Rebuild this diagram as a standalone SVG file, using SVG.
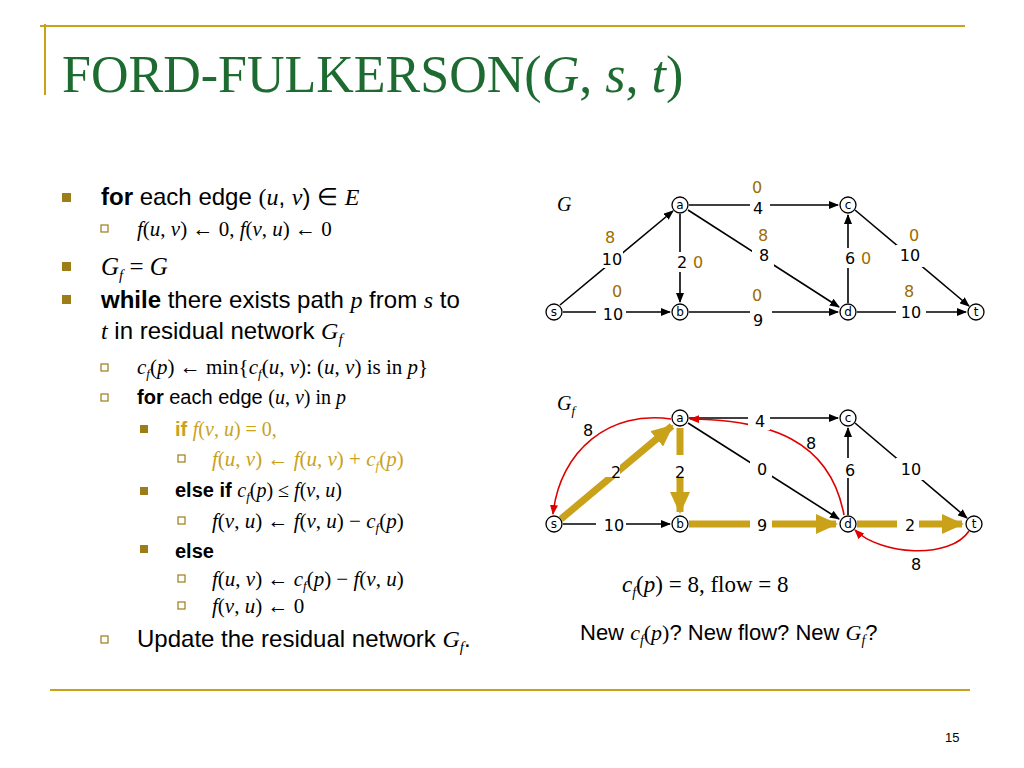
<svg xmlns="http://www.w3.org/2000/svg" width="1024" height="768" viewBox="0 0 1024 768">
<style>
.t{font-family:"Liberation Sans",Arial,sans-serif;fill:#000}
.m{font-family:"Liberation Serif",serif;font-style:italic}
.r{font-family:"Liberation Serif",serif;font-style:normal}
.n{fill:#fff;stroke:#000;stroke-width:1.3}
.nl{font-family:"DejaVu Sans",sans-serif;font-size:12px;text-anchor:middle}
.el{font-family:"DejaVu Sans",sans-serif;font-size:16px;text-anchor:middle}
.f{fill:#9C6D00}
.e{stroke:#000;stroke-width:1.6;fill:none;marker-end:url(#ah)}
.g{stroke:#C9A21A;stroke-width:7;fill:none;marker-end:url(#gh)}
.rd{stroke:#E00000;stroke-width:1.6;fill:none;marker-end:url(#rh)}
.b1{fill:#9C7D18}
</style>
<defs>
<marker id="ah" markerWidth="10" markerHeight="8" refX="9" refY="4" orient="auto" markerUnits="userSpaceOnUse"><path d="M0,0L10,4L0,8z"/></marker>
<marker id="gh" markerWidth="22" markerHeight="20" refX="20" refY="10" orient="auto" markerUnits="userSpaceOnUse"><path d="M0,0L22,10L0,20z" fill="#C9A21A"/></marker>
<marker id="rh" markerWidth="10" markerHeight="8" refX="9" refY="4" orient="auto" markerUnits="userSpaceOnUse"><path d="M0,0L10,4L0,8z" fill="#E00000"/></marker>
</defs>
<rect width="1024" height="768" fill="#fff"/>
<line x1="40" y1="26" x2="965" y2="26" stroke="#C9A21A" stroke-width="2"/>
<line x1="45" y1="24" x2="45" y2="95" stroke="#C9A21A" stroke-width="2"/>
<line x1="50" y1="690" x2="970" y2="690" stroke="#C9A21A" stroke-width="2"/>
<text x="62" y="92" font-family="Liberation Serif,serif" font-size="52" fill="#1E6B32">FORD-FULKERSON<tspan class="r">(</tspan><tspan class="m">G</tspan>, <tspan class="m">s</tspan>, <tspan class="m">t</tspan>)</text>
<text x="945" y="742" class="t" font-size="13">15</text>
<g id="bullets">
<rect x="62" y="193" width="9" height="9" class="b1"/>
<rect x="62" y="262" width="9" height="9" class="b1"/>
<rect x="62" y="295" width="9" height="9" class="b1"/>
<rect x="140" y="425" width="8" height="8" class="b1"/>
<rect x="140" y="487" width="8" height="8" class="b1"/>
<rect x="140" y="545" width="8" height="8" class="b1"/>
<g fill="none" stroke="#9C7D18" stroke-width="1.2">
<rect x="101" y="225" width="7" height="7"/><rect x="101" y="364" width="7" height="7"/><rect x="101" y="394" width="7" height="7"/>
<rect x="178" y="455" width="7" height="7"/><rect x="178" y="517" width="7" height="7"/><rect x="178" y="575" width="7" height="7"/><rect x="178" y="602" width="7" height="7"/>
<rect x="101" y="636" width="7" height="7"/>
</g>
</g>
<g id="code" class="t">
<text x="101" y="205" font-size="24"><tspan font-weight="bold">for</tspan> each edge <tspan class="r">(</tspan><tspan class="m">u</tspan>, <tspan class="m">v</tspan>) ∈ <tspan class="m">E</tspan></text>
<text x="137" y="236" font-size="21" class="m">f<tspan class="r">(</tspan>u<tspan class="r">, </tspan>v<tspan class="r">) ← 0, </tspan>f<tspan class="r">(</tspan>v<tspan class="r">, </tspan>u<tspan class="r">) ← 0</tspan></text>
<text x="101" y="275" font-size="25" class="m">G<tspan font-size="15" dy="5">f</tspan><tspan class="r" dy="-5"> = </tspan>G</text>
<text x="101" y="308" font-size="24"><tspan font-weight="bold">while</tspan> there exists path <tspan class="m">p</tspan> from <tspan class="m">s</tspan> to</text>
<text x="101" y="339" font-size="24"><tspan class="m">t</tspan> in residual network <tspan class="m">G<tspan font-size="15" dy="5">f</tspan></tspan></text>
<text x="137" y="374" font-size="21" class="m">c<tspan font-size="13" dy="4">f</tspan><tspan class="r" dy="-4">(</tspan>p<tspan class="r">) ← min{</tspan>c<tspan font-size="13" dy="4">f</tspan><tspan class="r" dy="-4">(</tspan>u<tspan class="r">, </tspan>v<tspan class="r">):  (</tspan>u<tspan class="r">, </tspan>v<tspan class="r">) is in </tspan>p<tspan class="r">}</tspan></text>
<text x="137" y="404" font-size="20"><tspan font-weight="bold">for</tspan> each edge <tspan class="r">(</tspan><tspan class="m">u</tspan><tspan class="r">, </tspan><tspan class="m">v</tspan><tspan class="r">) in </tspan><tspan class="m">p</tspan></text>
<text x="175" y="436" font-size="20" fill="#C9A21A"><tspan font-weight="bold" fill="#C9A21A">if</tspan> <tspan class="m">f</tspan><tspan class="r">(</tspan><tspan class="m">v</tspan><tspan class="r">, </tspan><tspan class="m">u</tspan><tspan class="r">) = 0,</tspan></text>
<text x="212" y="466" font-size="21" class="m" fill="#C9A21A">f<tspan class="r">(</tspan>u<tspan class="r">, </tspan>v<tspan class="r">) ← </tspan>f<tspan class="r">(</tspan>u<tspan class="r">, </tspan>v<tspan class="r">) + </tspan>c<tspan font-size="13" dy="4">f</tspan><tspan class="r" dy="-4">(</tspan>p<tspan class="r">)</tspan></text>
<text x="175" y="497" font-size="20"><tspan font-weight="bold">else if</tspan> <tspan class="m">c<tspan font-size="13" dy="4">f</tspan></tspan><tspan class="r" dy="-4">(</tspan><tspan class="m">p</tspan><tspan class="r">) ≤ </tspan><tspan class="m">f</tspan><tspan class="r">(</tspan><tspan class="m">v</tspan><tspan class="r">, </tspan><tspan class="m">u</tspan><tspan class="r">)</tspan></text>
<text x="212" y="528" font-size="21" class="m">f<tspan class="r">(</tspan>v<tspan class="r">, </tspan>u<tspan class="r">) ← </tspan>f<tspan class="r">(</tspan>v<tspan class="r">, </tspan>u<tspan class="r">) − </tspan>c<tspan font-size="13" dy="4">f</tspan><tspan class="r" dy="-4">(</tspan>p<tspan class="r">)</tspan></text>
<text x="175" y="558" font-size="20" font-weight="bold">else</text>
<text x="212" y="586" font-size="21" class="m">f<tspan class="r">(</tspan>u<tspan class="r">, </tspan>v<tspan class="r">) ← </tspan>c<tspan font-size="13" dy="4">f</tspan><tspan class="r" dy="-4">(</tspan>p<tspan class="r">) − </tspan>f<tspan class="r">(</tspan>v<tspan class="r">, </tspan>u<tspan class="r">)</tspan></text>
<text x="212" y="613" font-size="21" class="m">f<tspan class="r">(</tspan>v<tspan class="r">, </tspan>u<tspan class="r">) ← 0</tspan></text>
<text x="137" y="647" font-size="24">Update the residual network <tspan class="m">G<tspan font-size="15" dy="5">f</tspan></tspan><tspan dy="-5">.</tspan></text>
</g>
<text x="557" y="211" class="m" font-size="20">G</text>
<text x="557" y="410" class="m" font-size="20">G<tspan font-size="13" dy="5">f</tspan></text>
<g id="connectors">
<path class="e" d="M560,305L673,211"/><path class="e" d="M563,312L670,312"/>
<path class="e" d="M680,214L680,302"/><path class="e" d="M689,205L838,205"/>
<path class="e" d="M688,210L839,307"/><path class="e" d="M689,312L838,312"/>
<path class="e" d="M848,303L848,215"/><path class="e" d="M855,210L969,306"/>
<path class="e" d="M857,312L966,312"/>
<path class="g" d="M561,519L672,426"/><path class="g" d="M680,428L680,512"/>
<path class="g" d="M689,524L836,524"/><path class="g" d="M857,524L962,524"/>
<path class="e" d="M563,524L670,524"/><path class="e" d="M689,418L838,418"/>
<path class="e" d="M688,423L839,519"/><path class="e" d="M848,515L848,428"/>
<path class="e" d="M855,423L967,518"/>
<path class="rd" d="M671,419C610,410 560,450 553,514"/>
<path class="rd" d="M844,515C830,440 770,420 690,419"/>
<path class="rd" d="M969,531C950,560 880,555 855,530"/>
</g>
<g id="elabels">
<g fill="#fff"><rect x="593" y="248" width="30" height="20"/><rect x="596" y="304" width="30" height="20"/><rect x="670" y="252" width="20" height="20"/><rect x="750" y="198" width="20" height="20"/><rect x="752" y="245" width="22" height="22"/><rect x="750" y="304" width="22" height="20"/><rect x="838" y="248" width="20" height="20"/><rect x="896" y="245" width="30" height="22"/><rect x="896" y="302" width="30" height="20"/>
<rect x="596" y="517" width="30" height="20"/><rect x="598" y="455" width="22" height="22"/><rect x="670" y="455" width="20" height="22"/><rect x="750" y="457" width="22" height="20"/><rect x="750" y="515" width="22" height="20"/><rect x="748" y="410" width="22" height="20"/><rect x="838" y="458" width="20" height="20"/><rect x="896" y="458" width="30" height="22"/><rect x="897" y="515" width="22" height="20"/></g>
<text class="el" x="612" y="265">10</text><text class="el f" x="610" y="243">8</text>
<text class="el" x="613" y="320">10</text><text class="el f" x="617" y="297">0</text>
<text class="el" x="682" y="268">2</text><text class="el f" x="698" y="268">0</text>
<text class="el" x="758" y="214">4</text><text class="el f" x="757" y="193">0</text>
<text class="el" x="764" y="261">8</text><text class="el f" x="763" y="241">8</text>
<text class="el" x="758" y="326">9</text><text class="el f" x="757" y="301">0</text>
<text class="el" x="850" y="264">6</text><text class="el f" x="866" y="264">0</text>
<text class="el" x="910" y="261">10</text><text class="el f" x="914" y="241">0</text>
<text class="el" x="911" y="318">10</text><text class="el f" x="909" y="297">8</text>
<text class="el" x="614" y="531">10</text><text class="el" x="616" y="478">2</text><text class="el" x="680" y="478">2</text>
<text class="el" x="762" y="475">0</text><text class="el" x="762" y="531">9</text><text class="el" x="760" y="427">4</text>
<text class="el" x="811" y="449">8</text><text class="el" x="850" y="476">6</text><text class="el" x="911" y="475">10</text>
<text class="el" x="910" y="531">2</text><text class="el" x="588" y="436">8</text><text class="el" x="916" y="570">8</text>
</g>
<g id="node-s"><circle class="n" cx="554" cy="312" r="8"/><text class="nl" x="554" y="316">s</text></g>
<g id="node-a"><circle class="n" cx="680" cy="205" r="8"/><text class="nl" x="680" y="209">a</text></g>
<g id="node-b"><circle class="n" cx="680" cy="312" r="8"/><text class="nl" x="680" y="316">b</text></g>
<g id="node-c"><circle class="n" cx="848" cy="205" r="8"/><text class="nl" x="848" y="209">c</text></g>
<g id="node-d"><circle class="n" cx="848" cy="312" r="8"/><text class="nl" x="848" y="316">d</text></g>
<g id="node-t"><circle class="n" cx="976" cy="312" r="8"/><text class="nl" x="976" y="316">t</text></g>
<g id="node-s2"><circle class="n" cx="554" cy="524" r="8"/><text class="nl" x="554" y="528">s</text></g>
<g id="node-a2"><circle class="n" cx="680" cy="418" r="8"/><text class="nl" x="680" y="422">a</text></g>
<g id="node-b2"><circle class="n" cx="680" cy="524" r="8"/><text class="nl" x="680" y="528">b</text></g>
<g id="node-c2"><circle class="n" cx="848" cy="418" r="8"/><text class="nl" x="848" y="422">c</text></g>
<g id="node-d2"><circle class="n" cx="848" cy="524" r="8"/><text class="nl" x="848" y="528">d</text></g>
<g id="node-t2"><circle class="n" cx="974" cy="524" r="8"/><text class="nl" x="974" y="528">t</text></g>
<text x="622" y="592" class="m" font-size="23">c<tspan font-size="14" dy="5">f</tspan><tspan class="r" dy="-5">(</tspan>p<tspan class="r">) = 8, flow = 8</tspan></text>
<text x="580" y="640" class="t" font-size="22">New <tspan class="m">c<tspan font-size="14" dy="5">f</tspan></tspan><tspan class="r" dy="-5">(</tspan><tspan class="m">p</tspan><tspan class="r">)</tspan>? New flow? New <tspan class="m">G<tspan font-size="14" dy="5">f</tspan></tspan><tspan dy="-5">?</tspan></text>
</svg>
